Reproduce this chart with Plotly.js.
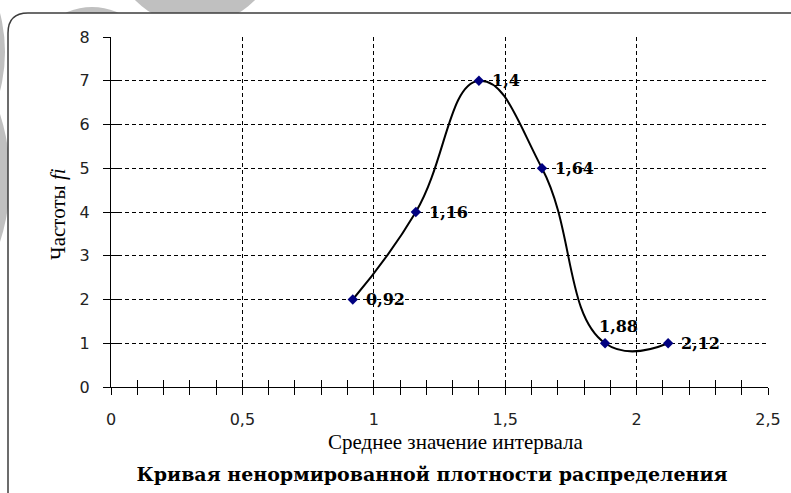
<!DOCTYPE html>
<html>
<head>
<meta charset="utf-8">
<script src="https://cdn.plot.ly/plotly-3.0.1.min.js"></script>
<style>html,body{margin:0;padding:0;background:#fff;}#chart{width:791px;height:493px;}</style>
</head>
<body>
<div id="chart"></div>
<script>
// Data
const intervalMeans = [0.92, 1.16, 1.4, 1.64, 1.88, 2.12];
const frequencies   = [2, 4, 7, 5, 1, 1];
const xTickVals = [0, 0.5, 1, 1.5, 2, 2.5];
const yTickVals = [0, 1, 2, 3, 4, 5, 6, 7, 8];

const chartTitle = 'Кривая ненормированной плотности распределения';
const xTitle = 'Среднее значение интервала';
const yTitle = 'Частоты <i>fi</i>';

// Layout geometry (pixels)
const L = 111, T = 37, W = 657, H = 350;
const px = v => (v - L) / W;
const py = v => (T + H - v) / H;

const serif = 'Liberation Serif, Times New Roman, serif';
const serifBold = 'DejaVu Serif, serif';
const sans = 'DejaVu Sans, Arial, sans-serif';

const labelText = intervalMeans.map(v => String(v).replace('.', ','));

const mainTrace = {
  x: intervalMeans, y: frequencies, type: 'scatter', mode: 'lines+markers',
  line: {shape: 'spline', smoothing: 1.3, color: '#000', width: 2},
  marker: {symbol: 'diamond', size: 8, color: '#000080', line: {width: 0}},
  hoverinfo: 'skip', showlegend: false
};
const tickTrace = {
  x: intervalMeans, y: frequencies, type: 'scatter', mode: 'markers',
  xaxis: 'x2', yaxis: 'y2', marker: {opacity: 0}, hoverinfo: 'skip', showlegend: false
};

const labelAnnots = intervalMeans.map((x, i) => {
  const above = frequencies[i] === 1 && i < intervalMeans.length - 1;
  return {
    x: x, y: frequencies[i], xref: 'x', yref: 'y', text: labelText[i], showarrow: false,
    xanchor: above ? 'center' : 'left', yanchor: above ? 'bottom' : 'middle',
    xshift: above ? 13 : 11, yshift: above ? 5 : 0,
    font: {family: serifBold, size: 16, color: '#000', weight: 'bold'}
  };
});

const gridDash = '4px,3px';
const axisCommon = {
  showline: true, linecolor: '#000', linewidth: 1,
  ticks: 'outside', ticklen: 7, tickcolor: '#000', tickwidth: 1,
  gridcolor: '#000', gridwidth: 1, griddash: gridDash,
  zeroline: false, fixedrange: true,
  tickfont: {family: sans, size: 16, color: '#222'}
};

const layout = {
  width: 791, height: 493,
  margin: {l: L, r: 791 - L - W, t: T, b: 493 - T - H},
  paper_bgcolor: '#fff', plot_bgcolor: 'rgba(0,0,0,0)',
  separators: ', ',
  showlegend: false,
  xaxis: Object.assign({}, axisCommon, {
    range: [0, 2.5], tickvals: xTickVals, showgrid: true,
    ticklabelstandoff: 11,
    minor: {dtick: 0.1, tick0: 0, ticks: 'outside', ticklen: 7, tickcolor: '#000', showgrid: false}
  }),
  yaxis: Object.assign({}, axisCommon, {
    range: [0, 8], tickvals: yTickVals, showgrid: true,
    ticklabelstandoff: 10
  }),
  xaxis2: {
    overlaying: 'x', anchor: 'y', side: 'bottom', range: [0, 2.5],
    showline: false, showgrid: false, zeroline: false, showticklabels: false,
    tickvals: xTickVals, ticks: 'inside', ticklen: 7, tickcolor: '#000', tickwidth: 1,
    minor: {dtick: 0.1, tick0: 0, ticks: 'inside', ticklen: 7, tickcolor: '#000', showgrid: false},
    fixedrange: true
  },
  yaxis2: {
    overlaying: 'y', anchor: 'x', side: 'left', range: [0, 8],
    showline: false, showgrid: false, zeroline: false, showticklabels: false,
    tickvals: yTickVals.slice(0, -1), ticks: 'inside', ticklen: 7, tickcolor: '#000', tickwidth: 1,
    fixedrange: true
  },
  title: {
    text: '<b>' + chartTitle + '</b>', xref: 'container', yref: 'container',
    x: 432 / 791, y: 1 - 474 / 493, xanchor: 'center', yanchor: 'middle',
    font: {family: serifBold, size: 19, color: '#000'}
  },
  annotations: labelAnnots.concat([
    {text: xTitle, xref: 'paper', yref: 'paper', x: px(455), y: py(442),
     xanchor: 'center', yanchor: 'middle', showarrow: false,
     font: {family: serif, size: 21, color: '#000'}},
    {text: yTitle, xref: 'paper', yref: 'paper', x: px(58), y: py(214),
     xanchor: 'center', yanchor: 'middle', showarrow: false, textangle: -90,
     font: {family: serif, size: 21, color: '#000'}}
  ]),
  shapes: [
    {type: 'circle', xref: 'paper', yref: 'paper', layer: 'below',
     x0: px(110), x1: px(280), y0: py(25), y1: py(-145), fillcolor: '#c0c0c0', line: {width: 0}},
    {type: 'circle', xref: 'paper', yref: 'paper', layer: 'below',
     x0: px(29), x1: px(155), y0: py(133), y1: py(7), fillcolor: '#c0c0c0', line: {width: 0}},
    {type: 'circle', xref: 'paper', yref: 'paper', layer: 'below',
     x0: px(-305), x1: px(5), y0: py(207), y1: py(-103), fillcolor: '#c0c0c0', line: {width: 0}},
    {type: 'circle', xref: 'paper', yref: 'paper', layer: 'below',
     x0: px(-410), x1: px(10), y0: py(388), y1: py(-32), fillcolor: '#c0c0c0', line: {width: 0}},
    {type: 'path', xref: 'paper', yref: 'paper', layer: 'below',
     path: 'M ' + px(800) + ' ' + py(13) + ' L ' + px(28) + ' ' + py(13) +
           ' Q ' + px(8) + ' ' + py(13) + ' ' + px(8) + ' ' + py(33) +
           ' L ' + px(8) + ' ' + py(500) + ' L ' + px(800) + ' ' + py(500) + ' Z',
     fillcolor: '#fff', line: {color: '#3c3c3c', width: 1.5}}
  ]
};

Plotly.newPlot('chart', [mainTrace, tickTrace], layout, {staticPlot: true, displayModeBar: false});
</script>
</body>
</html>
